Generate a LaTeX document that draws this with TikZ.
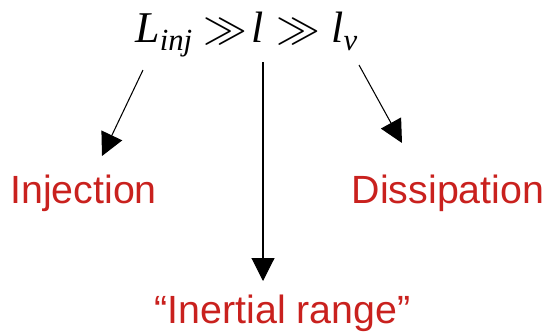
\documentclass[tikz,border=0pt]{standalone}
\usepackage{fontspec}
\setmainfont{Liberation Sans}
\newfontfamily\lawfont{Liberation Serif}
\usepackage{tikz}
\usetikzlibrary{arrows.meta,positioning,calc}
\definecolor{lblred}{RGB}{201,33,30}
\newcommand{\lowsub}[1]{\raisebox{-0.2em}{\fontsize{17.5}{20}\selectfont #1}}
\newcommand{\muchmore}{{\fontsize{26.5}{30}\selectfont$\gg$}}
\tikzset{
  frm/.style={inner sep=0pt,font=\lawfont\itshape\fontsize{25}{30}\selectfont},
  lbl/.style={inner sep=0pt,text=lblred,font=\fontsize{22.4}{27}\selectfont},
  arr/.style={-{Triangle[length=13pt,width=13pt]},line width=0.6pt},
}

\begin{document}
\begin{tikzpicture}[x=0.02cm,y=-0.02cm]
  \useasboundingbox (0,0) rectangle (550,335);
  % scale law on top
  \node[frm,anchor=base west] (law) at (135,42) {L\lowsub{inj}\kern.26em\muchmore\kern.1em l\kern.28em\muchmore\kern.26em l\lowsub{ν}};
  % the three ranges
  \node[lbl,anchor=base] (inj) at (83.5,203) {Injection};
  \node[lbl,anchor=base] (dis) at (448,203) {Dissipation};
  \node[lbl,anchor=base] (inr) at (282.5,323) {“Inertial range”};
  % arrow ends
  \coordinate (a1) at ($(law.base west)+(8,28)$);
  \coordinate (a2) at ($(law.base west)+(128,20)$);
  \coordinate (a3) at ($(law.base west)+(224,23)$);
  \coordinate (t1) at ($(inj.base)+(18.5,-47)$);
  \coordinate (t2) at ($(inr.base)+(-19.5,-42)$);
  \coordinate (t3) at ($(dis.base)+(-46,-60)$);
  \draw[arr] (a1) -- (t1);
  \draw[arr] (a2) -- (t2);
  \draw[arr] (a3) -- (t3);
\end{tikzpicture}
\end{document}
